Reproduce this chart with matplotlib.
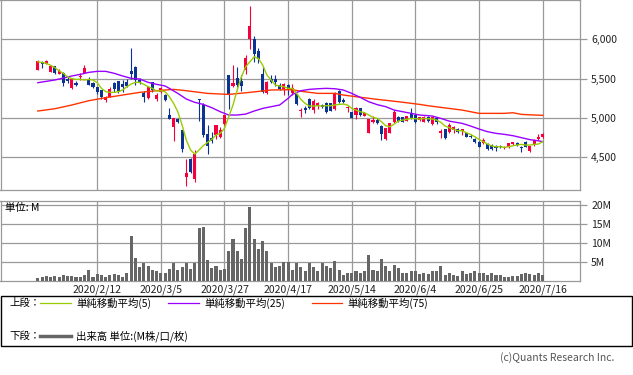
import pandas as pd
import matplotlib
matplotlib.use("Agg")
import matplotlib.pyplot as plt
from matplotlib.lines import Line2D
from matplotlib.patches import Rectangle

plt.rcParams['font.family'] = ['Noto Sans CJK JP', 'DejaVu Sans']

# trading days (TSE holidays removed)
holidays = ["2020-02-11", "2020-02-24", "2020-03-20", "2020-04-29",
            "2020-05-04", "2020-05-05", "2020-05-06"]
dates = [d for d in pd.bdate_range("2020-01-22", "2020-07-16")
         if d.strftime("%Y-%m-%d") not in holidays]

opens = [5614, 5716, 5690, 5589, 5657, 5564, 5572, 5492, 5377, 5449,
         5517, 5576, 5496, 5441, 5394, 5356, 5229, 5271, 5449, 5466,
         5432, 5453, 5597, 5648, 5483, 5314, 5250, 5453, 5237, 5334,
         5292, 5038, 4889, 4987, 4847, 4254, 4478, 4224, 5237, 5165,
         4796, 4750, 4783, 4762, 4923, 5546, 5411, 5504, 5474, 5610,
         6000, 6000, 5851, 5559, 5313, 5495, 5491, 5415, 5364, 5419,
         5320, 5300, 5089, 5123, 5237, 5101, 5152, 5165, 5186, 5186,
         5110, 5343, 5228, 5123, 5072, 5038, 5123, 5025, 4813, 4953,
         4974, 4898, 4728, 4813, 4949, 5017, 5008, 4966, 5059, 5033,
         4974, 4953, 5008, 4923, 4995, 4813, 4856, 4826, 4847, 4860,
         4839, 4805, 4775, 4733, 4690, 4678, 4669, 4656, 4644, 4644,
         4614, 4635, 4669, 4678, 4635, 4690, 4584, 4656, 4728, 4754]
highs = [5733, 5720, 5735, 5675, 5660, 5619, 5580, 5521, 5500, 5475,
         5568, 5678, 5525, 5453, 5398, 5360, 5275, 5390, 5462, 5470,
         5483, 5492, 5890, 5655, 5504, 5343, 5407, 5462, 5314, 5390,
         5300, 5131, 5000, 4995, 4850, 4478, 4491, 4593, 5240, 5186,
         4911, 4826, 4911, 4889, 5040, 5550, 5673, 5644, 5546, 5800,
         6423, 6042, 5885, 5652, 5465, 5546, 5546, 5440, 5440, 5432,
         5432, 5310, 5123, 5156, 5250, 5237, 5207, 5175, 5207, 5195,
         5334, 5356, 5250, 5152, 5080, 5144, 5130, 5075, 4990, 5025,
         4995, 4905, 4875, 4940, 5101, 5025, 5012, 5030, 5123, 5038,
         5015, 5025, 5025, 5012, 5017, 4856, 4860, 4932, 4902, 4877,
         4860, 4813, 4796, 4741, 4707, 4741, 4686, 4669, 4656, 4656,
         4644, 4686, 4699, 4690, 4640, 4711, 4650, 4728, 4792, 4813]
lows = [5606, 5640, 5685, 5580, 5555, 5560, 5411, 5449, 5364, 5410,
        5483, 5568, 5420, 5381, 5309, 5237, 5208, 5263, 5326, 5322,
        5335, 5398, 5492, 5420, 5432, 5208, 5242, 5335, 5216, 5321,
        5220, 4987, 4711, 4935, 4572, 4135, 4296, 4182, 4966, 4762,
        4542, 4677, 4728, 4750, 4915, 5118, 5389, 5389, 5343, 5559,
        5872, 5716, 5694, 5313, 5305, 5440, 5406, 5356, 5292, 5292,
        5292, 5170, 5017, 5068, 5114, 5068, 5110, 5130, 5068, 5089,
        5101, 5186, 5186, 5080, 4995, 4987, 5030, 5020, 4805, 4940,
        4919, 4720, 4720, 4805, 4940, 4949, 4945, 4960, 4983, 4940,
        4966, 4945, 4949, 4915, 4919, 4741, 4735, 4805, 4813, 4805,
        4784, 4754, 4750, 4678, 4627, 4669, 4593, 4593, 4584, 4614,
        4601, 4622, 4656, 4644, 4563, 4627, 4572, 4648, 4720, 4745]
closes = [5725, 5691, 5730, 5665, 5568, 5602, 5449, 5475, 5492, 5415,
          5534, 5631, 5424, 5394, 5330, 5271, 5271, 5373, 5373, 5347,
          5390, 5407, 5564, 5483, 5449, 5271, 5394, 5356, 5292, 5377,
          5228, 4991, 4995, 4944, 4610, 4305, 4309, 4542, 5230, 4783,
          4648, 4711, 4906, 4847, 5033, 5305, 5445, 5419, 5411, 5767,
          6169, 5813, 5745, 5326, 5457, 5457, 5462, 5368, 5432, 5356,
          5380, 5178, 5101, 5101, 5123, 5220, 5195, 5144, 5080, 5093,
          5305, 5199, 5207, 5144, 5004, 5131, 5038, 5068, 4983, 4974,
          4932, 4796, 4868, 4932, 5080, 4957, 4953, 5025, 4991, 4949,
          5008, 5017, 4966, 5008, 4953, 4830, 4741, 4911, 4889, 4826,
          4856, 4762, 4762, 4699, 4635, 4720, 4601, 4601, 4614, 4627,
          4635, 4678, 4690, 4656, 4622, 4635, 4644, 4720, 4762, 4792]

# volume, millions
volume = [0.9, 1.1, 1.4, 1.1, 1.4, 1.1, 1.7, 1.4, 1.4, 1.1,
          1.1, 1.7, 3.0, 1.1, 1.8, 1.7, 1.1, 1.6, 1.8, 1.7,
          1.1, 2.2, 11.7, 6.1, 3.8, 4.8, 4.0, 3.0, 2.5, 2.2,
          2.2, 3.2, 4.8, 3.0, 3.8, 4.6, 3.2, 4.8, 14.0, 14.3,
          5.6, 3.5, 4.0, 3.0, 3.2, 8.0, 11.1, 8.0, 5.9, 14.0,
          19.3, 11.1, 8.5, 10.6, 8.0, 4.6, 3.8, 4.0, 5.1, 5.1,
          3.0, 4.6, 3.8, 2.5, 4.6, 3.8, 2.7, 4.6, 4.0, 3.5,
          5.3, 3.0, 1.7, 2.2, 2.2, 2.7, 2.2, 2.5, 6.9, 3.0,
          2.5, 5.9, 4.0, 2.7, 4.3, 3.5, 2.2, 2.2, 2.5, 2.7,
          1.9, 2.2, 1.9, 2.5, 2.7, 4.0, 1.7, 2.2, 1.7, 1.4,
          2.5, 1.9, 2.2, 2.7, 2.2, 2.2, 1.7, 2.2, 1.7, 1.7,
          1.1, 1.1, 1.4, 1.4, 1.9, 2.2, 1.9, 1.7, 2.2, 1.7]

ma5 = [5716, 5705, 5695, 5670, 5640, 5600, 5568, 5525, 5500, 5491,
       5491, 5483, 5491, 5483, 5449, 5377, 5335, 5326, 5326, 5335,
       5356, 5398, 5432, 5453, 5453, 5428, 5398, 5377, 5343, 5347,
       5334, 5271, 5186, 5080, 4911, 4720, 4593, 4542, 4593, 4648,
       4690, 4728, 4784, 4805, 4868, 5016, 5165, 5356, 5525, 5652,
       5716, 5779, 5758, 5673, 5546, 5483, 5419, 5406, 5398, 5377,
       5377, 5313, 5237, 5186, 5152, 5152, 5156, 5152, 5156, 5156,
       5165, 5173, 5178, 5165, 5123, 5101, 5080, 5068, 5038, 5008,
       4995, 4953, 4902, 4889, 4923, 4961, 4974, 4983, 4995, 4991,
       4987, 4995, 4991, 4987, 4974, 4945, 4898, 4877, 4856, 4839,
       4839, 4813, 4792, 4762, 4728, 4699, 4669, 4644, 4635, 4635,
       4627, 4635, 4648, 4656, 4665, 4656, 4656, 4665, 4669, 4699]

ma25_day = [0, 4, 8, 10, 12, 14, 16, 18, 20, 22, 24, 26, 28, 30, 31, 33, 35,
            37, 39, 41, 43, 45, 47, 49, 51, 53, 55, 57, 59, 60, 62, 64, 66,
            68, 70, 72, 74, 76, 78, 80, 82, 84, 86, 88, 90, 93, 95, 97, 100,
            102, 104, 106, 108, 110, 112, 114, 116, 118, 119]
ma25 = [5449, 5483, 5534, 5555, 5580, 5593, 5593, 5568, 5534, 5504, 5496,
        5453, 5428, 5407, 5377, 5313, 5241, 5199, 5173, 5131, 5080, 5038,
        5038, 5050, 5089, 5122, 5144, 5165, 5250, 5300, 5347, 5364, 5372,
        5377, 5372, 5356, 5313, 5262, 5207, 5170, 5144, 5101, 5080, 5059,
        5038, 5025, 4995, 4960, 4932, 4898, 4860, 4826, 4805, 4792, 4775,
        4750, 4725, 4710, 4700]

ma75_day = [0, 4, 8, 12, 16, 20, 24, 28, 30, 32, 35, 40, 45, 50, 55, 60, 62,
            66, 70, 72, 75, 80, 85, 90, 92, 95, 100, 104, 108, 110, 112, 114,
            117, 119]
ma75 = [5089, 5118, 5165, 5220, 5258, 5292, 5326, 5347, 5356, 5364, 5347,
        5313, 5300, 5326, 5356, 5360, 5340, 5313, 5313, 5292, 5271, 5237,
        5207, 5173, 5156, 5135, 5101, 5059, 5059, 5059, 5067, 5046, 5038,
        5034]

W, H = 633, 375
UP, DOWN = "#f5003c", "#0b3394"
GRID = "#999999"

fig = plt.figure(figsize=(W / 100, H / 100), dpi=100)
ax1 = fig.add_axes([0.5 / W, 1 - 190 / H, 579.5 / W, 190 / H])
ax2 = fig.add_axes([0.5 / W, 1 - 281 / H, 579.5 / W, 80 / H])

x = list(range(len(closes)))
tick_idx = list(range(14, len(dates), 15))
tick_lab = [f"{dates[i].year}/{dates[i].month}/{dates[i].day}" for i in tick_idx]

# candles
for i in x:
    col = UP if closes[i] >= opens[i] else DOWN
    ax1.vlines(i, lows[i], highs[i], color=col, lw=0.8, zorder=3)
    bot = min(opens[i], closes[i])
    h = max(abs(closes[i] - opens[i]), 14)
    ax1.bar(i, h, bottom=bot, width=0.72, color=col, lw=0, zorder=3)

ax1.plot(ma75_day, ma75, color="#ff3300", lw=1, zorder=4)
ax1.plot(ma25_day, ma25, color="#9900ff", lw=1, zorder=4)
ax1.plot(x, ma5, color="#99cc00", lw=1, zorder=4)

ax2.bar(x, volume, width=0.72, color="#666666", lw=0, zorder=3)

for ax in (ax1, ax2):
    ax.set_xlim(-8.8, 127.8)
    ax.set_xticks(tick_idx)
    ax.yaxis.tick_right()
    ax.grid(True, color=GRID, lw=0.9)
    ax.set_axisbelow(True)
    for s in ax.spines.values():
        s.set_color(GRID)
        s.set_linewidth(0.9)
    ax.tick_params(axis="y", length=5, width=0.9, color=GRID, pad=3,
                   labelsize=7.5, labelcolor="#222222")
    ax.tick_params(axis="x", length=0, pad=2.5, labelsize=7.5,
                   labelcolor="#222222")

ax1.set_ylim(4085, 6500)
ax1.set_yticks([4500, 5000, 5500, 6000])
ax1.set_yticklabels([f"{v:,}" for v in [4500, 5000, 5500, 6000]])
ax1.set_xticklabels([])

ax2.set_ylim(0, 21)
ax2.set_yticks([5, 10, 15, 20])
ax2.set_yticklabels([f"{v}M" for v in [5, 10, 15, 20]])
ax2.set_xticklabels(tick_lab)

fig.text(5 / W, 1 - 208 / H, "単位: M", fontsize=7.5, va="center")

# legend box
fig.add_artist(Rectangle((0.5 / W, 1 - 346 / H), 631 / W, 50 / H,
                         transform=fig.transFigure, fill=False,
                         ec="black", lw=1))
y1 = 1 - 303 / H
y2 = 1 - 336 / H
fig.text(9 / W, y1, "上段：", fontsize=7.5, va="center")
for x0, x1, col, lab in [(40, 71, "#99cc00", "単純移動平均(5)"),
                         (168, 199, "#9900ff", "単純移動平均(25)"),
                         (312, 342, "#ff3300", "単純移動平均(75)")]:
    fig.add_artist(Line2D([x0 / W, x1 / W], [y1, y1], color=col, lw=0.9,
                          transform=fig.transFigure))
    fig.text((x1 + 5) / W, y1, lab, fontsize=7.5, va="center")
fig.text(9 / W, y2, "下段：", fontsize=7.5, va="center")
fig.add_artist(Line2D([40 / W, 71 / W], [y2, y2], color="#666666", lw=2.5,
                      transform=fig.transFigure))
fig.text(76 / W, y2, "出来高 単位:(M株/口/枚)", fontsize=7.5, va="center")

fig.text(614 / W, 1 - 358 / H, "(c)Quants Research Inc.", ha="right",
         va="center", fontsize=7.5, color="#555555")

fig.savefig("out.png", dpi=100)
